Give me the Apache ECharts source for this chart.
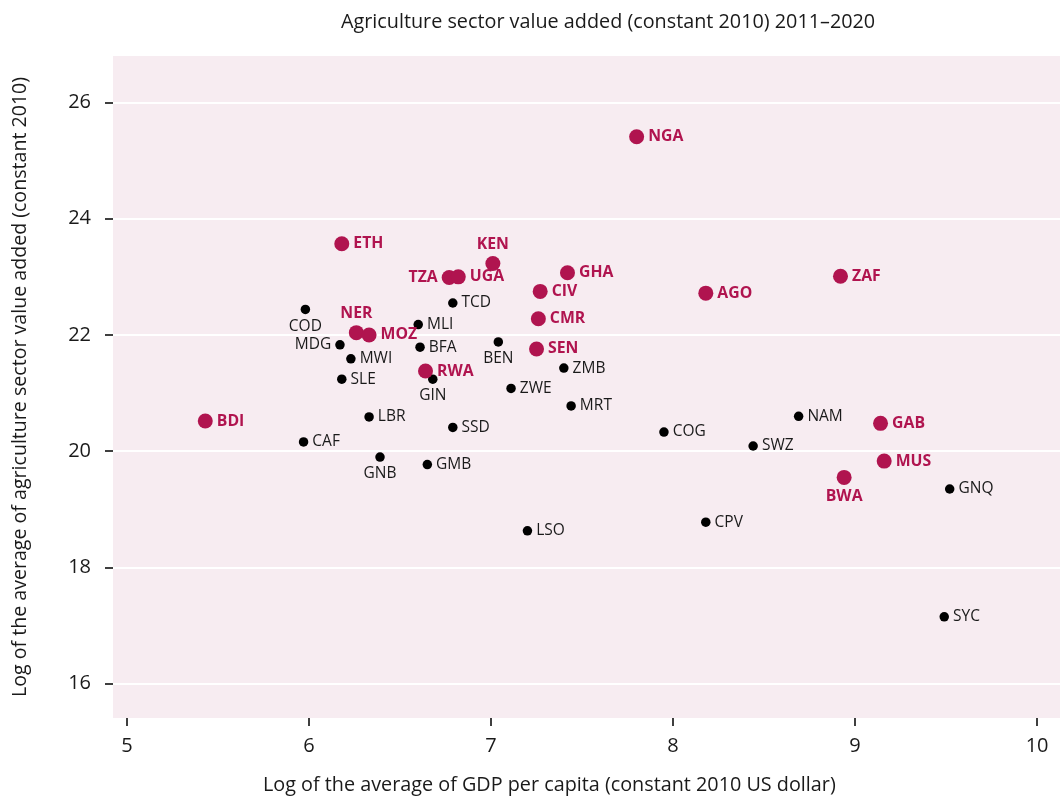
<!DOCTYPE html>
<html>
<head>
<meta charset="utf-8">
<script src="https://cdn.jsdelivr.net/npm/echarts@6/dist/echarts.min.js"></script>
<style>
html,body{margin:0;padding:0;background:#fff;}
#chart{width:1060px;height:798px;}
</style>
</head>
<body>
<div id="chart"></div>
<script>
// Highlighted countries (red)
const redCodes = ['NGA','ETH','KEN','TZA','UGA','GHA','CIV','CMR','SEN','RWA','NER','MOZ','BDI','AGO','ZAF','GAB','MUS','BWA'];
const redGdp   = [7.80, 6.18, 7.01, 6.77, 6.82, 7.42, 7.27, 7.26, 7.25, 6.64, 6.26, 6.33, 5.43, 8.18, 8.92, 9.14, 9.16, 8.94];
const redAgri  = [25.41, 23.57, 23.23, 22.99, 23.00, 23.07, 22.75, 22.28, 21.76, 21.38, 22.04, 22.00, 20.52, 22.72, 23.01, 20.48, 19.83, 19.55];

// Other countries (black)
const blackCodes = ['COD','MDG','MWI','SLE','LBR','CAF','GNB','TCD','MLI','BFA','BEN','GIN','ZMB','ZWE','MRT','SSD','COG','SWZ','NAM','GNQ','GMB','LSO','CPV','SYC'];
const blackGdp   = [5.98, 6.17, 6.23, 6.18, 6.33, 5.97, 6.39, 6.79, 6.60, 6.61, 7.04, 6.68, 7.40, 7.11, 7.44, 6.79, 7.95, 8.44, 8.69, 9.52, 6.65, 7.20, 8.18, 9.49];
const blackAgri  = [22.44, 21.83, 21.59, 21.24, 20.59, 20.16, 19.90, 22.55, 22.18, 21.79, 21.88, 21.24, 21.43, 21.08, 20.78, 20.41, 20.33, 20.09, 20.60, 19.35, 19.77, 18.63, 18.78, 17.15];

const xTicks = [5, 6, 7, 8, 9, 10];
const yTicks = [16, 18, 20, 22, 24, 26];

const titleText = 'Agriculture sector value added (constant 2010) 2011\u20132020';
const xTitle = 'Log of the average of GDP per capita (constant 2010 US dollar)';
const yTitle = 'Log of the average of agriculture sector value added (constant 2010)';

// label placement (style, kept separate from data)
const labelPos = {
  COD: 'bottom', MDG: 'left', GNB: 'bottom', BEN: 'bottom', GIN: 'bottom',
  NER: 'top', KEN: 'top', TZA: 'left', BWA: 'bottom'
};
const labelOffset = { UGA: [0, 7], TCD: [-3, 0], COD: [9, 0], GIN: [7, 0] };

const FONT = '"Open Sans", "Noto Sans", sans-serif';
const RED = '#B0144F';
const INK = '#1a1a1a';

function build(codes, xs, ys) {
  return codes.map((c, i) => {
    const item = { name: c, value: [xs[i], ys[i]] };
    const lab = {};
    if (labelPos[c]) lab.position = labelPos[c];
    if (labelOffset[c]) lab.offset = labelOffset[c];
    if (Object.keys(lab).length) item.label = lab;
    return item;
  });
}

const chart = echarts.init(document.getElementById('chart'), null, { renderer: 'canvas' });

chart.setOption({
  animation: false,
  backgroundColor: '#ffffff',
  title: {
    text: titleText,
    left: 336, top: 7,
    textStyle: { fontFamily: FONT, fontSize: 19.8, fontWeight: 'normal', color: INK }
  },
  graphic: [
    {
      type: 'text', left: 263, top: 775,
      style: { text: xTitle, font: '19.8px ' + FONT, fill: INK }
    }
  ],
  grid: {
    left: 113, right: 0, top: 56, bottom: 80,
    show: true, backgroundColor: '#F7ECF1', borderWidth: 0,
    containLabel: false
  },
  xAxis: {
    type: 'value',
    min: 4.923, max: 10.126,
    axisLine: { show: false },
    axisTick: { show: true, length: 8, lineStyle: { color: '#000', width: 1.5 }, customValues: xTicks },
    axisLabel: { customValues: xTicks, margin: 18, fontFamily: FONT, fontSize: 20, color: INK },
    splitLine: { show: false }
  },
  yAxis: {
    type: 'value',
    min: 15.41, max: 26.80,
    name: yTitle,
    nameLocation: 'middle',
    nameGap: 83,
    nameTextStyle: { fontFamily: FONT, fontSize: 19.6, color: INK },
    axisLine: { show: false },
    axisTick: { show: true, length: 8, lineStyle: { color: '#000', width: 1.5 }, customValues: yTicks },
    axisLabel: { customValues: yTicks, margin: 22, fontFamily: FONT, fontSize: 20, color: INK },
    splitLine: { show: true, lineStyle: { color: '#ffffff', width: 2 } }
  },
  series: [
    {
      name: 'Other',
      type: 'scatter',
      symbolSize: 9.5,
      itemStyle: { color: '#000000', opacity: 1 },
      data: build(blackCodes, blackGdp, blackAgri),
      label: {
        show: true, position: 'right', distance: 4,
        formatter: '{b}', fontFamily: FONT, fontSize: 15.5, color: INK, opacity: 1
      },
      labelLayout: { hideOverlap: false },
      z: 3
    },
    {
      name: 'Highlighted',
      type: 'scatter',
      symbolSize: 15,
      itemStyle: { color: RED, opacity: 1 },
      data: build(redCodes, redGdp, redAgri),
      label: {
        show: true, position: 'right', distance: 4,
        formatter: '{b}', fontFamily: FONT, fontSize: 15.8, fontWeight: 'bold', color: RED, opacity: 1
      },
      labelLayout: { hideOverlap: false },
      z: 4
    }
  ]
});
</script>
</body>
</html>
